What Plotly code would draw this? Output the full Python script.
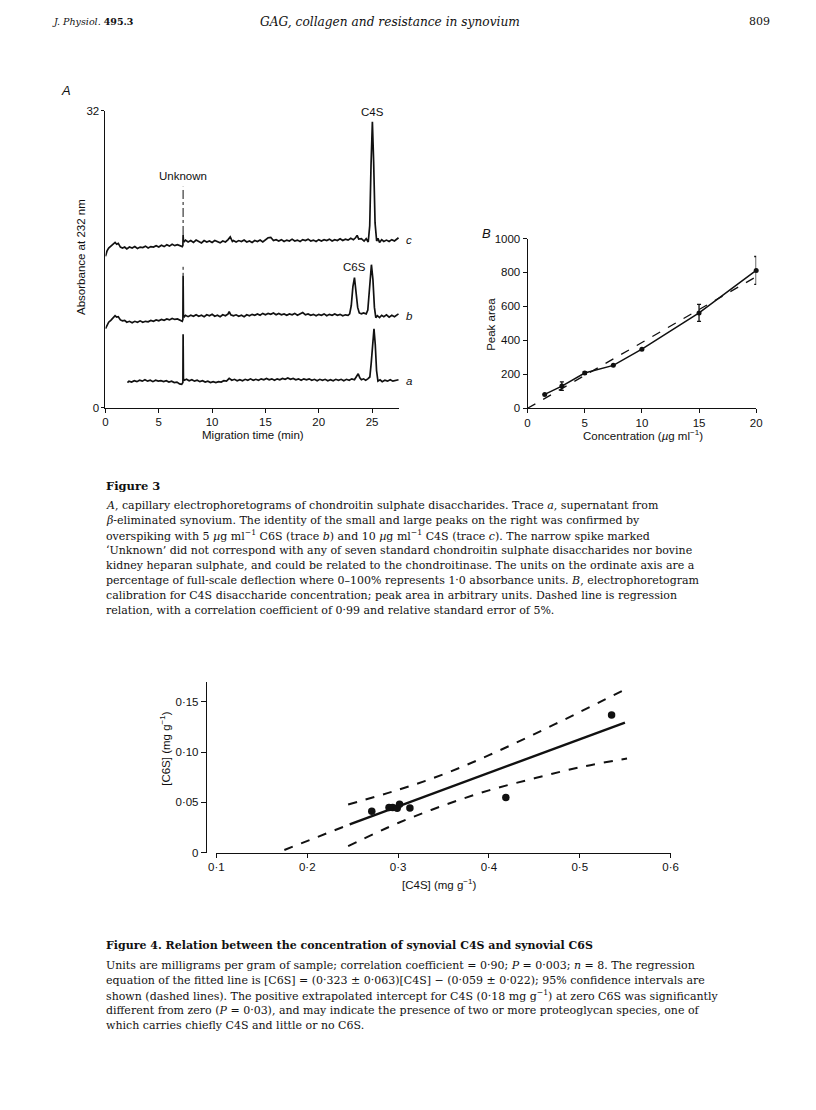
import plotly.graph_objects as go

# The page keeps the browser's default 8 px body margin, so the figure is drawn
# 800 x 1090 and all reference pixel positions are shifted by 8 px.
W, H = 800, 1090
OFF = 8

# ---------------- Figure 3A : electrophoretograms ----------------
trace_c_t = [0, 0.15, 0.3, 0.5, 0.7, 0.9, 1.05, 1.2, 1.4, 1.6, 1.8, 2.0, 2.25, 2.5, 2.75, 3.0, 3.25, 3.5, 3.75, 4.0,
             4.25, 4.5, 4.75, 5.0, 5.25, 5.5, 5.75, 6.0, 6.25, 6.5, 6.75, 7.0, 7.2, 7.26, 7.28, 7.31, 7.4, 7.5, 7.75, 8.0,
             8.25, 8.5, 8.75, 9.0, 9.25, 9.5, 9.75, 10.0, 10.25, 10.5, 10.75, 11.0, 11.25, 11.5, 11.7, 11.9, 12.0, 12.25,
             12.5, 12.75, 13.0, 13.25, 13.5, 13.75, 14.0, 14.25, 14.5, 14.75, 15.0, 15.25, 15.5, 15.75, 16.0, 16.25, 16.5,
             16.75, 17.0, 17.25, 17.5, 17.75, 18.0, 18.25, 18.5, 18.75, 19.0, 19.25, 19.5, 19.75, 20.0, 20.25, 20.5, 20.75,
             21.0, 21.25, 21.5, 21.75, 22.0, 22.25, 22.5, 22.75, 23.0, 23.25, 23.45, 23.6, 23.75, 24.0, 24.25, 24.45, 24.64,
             24.78, 24.9, 25.03, 25.15, 25.28, 25.43, 25.55, 25.7, 25.9, 26.1, 26.35, 26.6, 26.85, 27.1, 27.3, 27.48]
trace_c_v = [16.3, 16.9, 17.2, 17.4, 17.5, 17.8, 17.6, 17.7, 17.3, 17.2, 17.3, 17.1, 17.3, 17.2, 17.35, 17.15, 17.3, 17.25, 17.4, 17.2,
             17.35, 17.3, 17.45, 17.3, 17.5, 17.35, 17.55, 17.4, 17.6, 17.45, 17.55, 17.4, 17.35, 17.5, 18.6, 18.0, 17.9, 18.05, 17.85, 18.0,
             17.8, 18.05, 17.9, 17.75, 18.0, 17.85, 17.95, 17.8, 18.0, 17.9, 17.75, 17.95, 17.85, 18.1, 18.4, 17.9, 18.0, 17.85,
             18.0, 17.9, 18.05, 17.85, 17.95, 17.8, 18.0, 17.9, 18.05, 17.85, 18.1, 18.3, 18.35, 18.0, 18.1, 17.95, 18.1,
             17.9, 18.05, 17.95, 18.15, 17.95, 18.05, 17.9, 18.1, 18.0, 18.15, 17.95, 18.05, 17.9, 18.1, 17.95, 18.1, 18.0,
             18.15, 17.95, 18.1, 18.0, 18.2, 18.0, 18.15, 18.05, 18.25, 18.1, 18.3, 18.55, 18.15, 18.2, 17.95, 18.2, 17.85,
             19.6, 26.0, 30.8, 26.4, 19.9, 17.95, 18.25, 17.8, 18.1, 17.9, 18.05, 17.9, 18.1, 17.95, 18.1, 18.3]

trace_b_t = [0, 0.15, 0.3, 0.5, 0.7, 0.9, 1.05, 1.2, 1.4, 1.6, 1.8, 2.0, 2.25, 2.5, 2.75, 3.0, 3.25, 3.5, 3.75, 4.0,
             4.25, 4.5, 4.75, 5.0, 5.25, 5.5, 5.75, 6.0, 6.25, 6.5, 6.75, 7.0, 7.2, 7.26, 7.28, 7.31, 7.4, 7.5, 7.75, 8.0,
             8.25, 8.5, 8.75, 9.0, 9.25, 9.5, 9.75, 10.0, 10.25, 10.5, 10.75, 11.0, 11.25, 11.5, 11.6, 11.75, 12.0, 12.25,
             12.5, 12.75, 13.0, 13.25, 13.5, 13.75, 14.0, 14.25, 14.5, 14.75, 15.0, 15.25, 15.5, 15.75, 16.0, 16.25, 16.5,
             16.75, 17.0, 17.25, 17.5, 17.75, 18.0, 18.25, 18.5, 18.75, 19.0, 19.25, 19.5, 19.75, 20.0, 20.25, 20.5, 20.75,
             21.0, 21.25, 21.5, 21.75, 22.0, 22.25, 22.5, 22.75, 22.9, 23.05, 23.2, 23.35, 23.5, 23.65, 23.8, 24.0, 24.2,
             24.45, 24.6, 24.75, 24.94, 25.08, 25.22, 25.35, 25.5, 25.7, 25.9, 26.1, 26.35, 26.6, 26.85, 27.1, 27.3, 27.48]
trace_b_v = [8.5, 8.9, 9.2, 9.4, 9.6, 9.9, 9.75, 9.8, 9.45, 9.35, 9.4, 9.2, 9.3, 9.15, 9.3, 9.2, 9.35, 9.2, 9.3, 9.25,
             9.4, 9.3, 9.45, 9.35, 9.5, 9.4, 9.55, 9.45, 9.6, 9.5, 9.55, 9.4, 9.3, 9.5, 14.2, 10.0, 9.8, 9.95, 9.8, 9.95,
             9.85, 10.0, 9.85, 9.95, 9.8, 10.0, 9.9, 10.05, 9.85, 9.95, 9.8, 10.0, 9.9, 10.1, 10.35, 10.0, 9.9, 10.0,
             9.85, 9.95, 9.8, 10.0, 9.9, 10.05, 9.95, 10.1, 9.95, 10.15, 10.0, 10.15, 10.05, 10.2, 10.0, 10.15, 10.0,
             10.1, 9.95, 10.1, 10.0, 10.15, 9.95, 10.1, 10.25, 10.0, 10.1, 9.95, 10.05, 9.9, 10.05, 9.95, 10.1, 9.9,
             10.05, 9.95, 10.1, 9.95, 10.05, 9.9, 10.0, 9.95, 10.1, 11.0, 13.0, 14.0, 12.6, 10.8, 10.2, 10.1, 10.2,
             10.1, 10.5, 12.5, 15.4, 13.8, 10.8, 9.7, 9.9, 9.7, 9.95, 9.8, 10.0, 9.75, 9.95, 9.8, 9.95, 10.1]

trace_a_t = [2.06, 2.2, 2.45, 2.7, 2.95, 3.2, 3.45, 3.7, 3.95, 4.2, 4.45, 4.7, 4.95, 5.2, 5.45, 5.7, 5.95, 6.2, 6.45, 6.7,
             6.95, 7.15, 7.26, 7.28, 7.31, 7.4, 7.6, 7.85, 8.1, 8.35, 8.6, 8.85, 9.1, 9.35, 9.6, 9.85, 10.1, 10.35, 10.6,
             10.85, 11.1, 11.35, 11.6, 11.85, 12.1, 12.35, 12.6, 12.85, 13.1, 13.35, 13.6, 13.85, 14.1, 14.35, 14.6, 14.85,
             15.1, 15.35, 15.6, 15.85, 16.1, 16.35, 16.6, 16.85, 17.1, 17.35, 17.6, 17.85, 18.1, 18.35, 18.6, 18.85, 19.1,
             19.35, 19.6, 19.85, 20.1, 20.35, 20.6, 20.85, 21.1, 21.35, 21.6, 21.85, 22.1, 22.35, 22.6, 22.85, 23.1, 23.35,
             23.55, 23.7, 23.85, 24.0, 24.2, 24.4, 24.6, 24.79, 24.92, 25.05, 25.18, 25.3, 25.42, 25.55, 25.75, 25.95,
             26.2, 26.45, 26.7, 26.95, 27.2, 27.48]
trace_a_v = [2.7, 2.85, 2.75, 2.9, 2.8, 2.95, 2.85, 3.0, 2.85, 2.95, 2.8, 2.95, 2.85, 2.9, 2.8, 2.9, 2.75, 2.85, 2.7, 2.75,
             2.55, 2.5, 2.7, 7.9, 3.1, 2.95, 3.05, 2.9, 3.0, 2.85, 2.95, 2.8, 2.9, 2.75, 2.85, 2.7, 2.8, 2.7, 2.8,
             2.75, 2.9, 2.85, 3.15, 2.95, 3.05, 2.9, 3.0, 2.9, 3.05, 2.95, 3.1, 2.95, 3.05, 2.95, 3.1, 3.0,
             3.15, 3.0, 3.1, 2.95, 3.1, 3.0, 3.15, 3.05, 3.2, 3.05, 3.15, 3.0, 3.1, 2.95, 3.1, 3.0, 3.1,
             2.95, 3.05, 2.9, 3.05, 2.95, 3.05, 2.9, 3.0, 2.9, 3.05, 2.95, 3.05, 2.9, 3.05, 2.95, 3.1, 3.0,
             3.3, 3.65, 3.2, 3.0, 3.1, 2.95, 3.1, 3.3, 4.8, 7.3, 8.5, 6.8, 4.0, 2.85, 3.0, 2.8,
             2.95, 2.85, 3.0, 2.85, 2.95, 3.0]

unknown_t = 7.28
unknown_c_span = [18.6, 23.8]   # faint dash-dot top of the spike in trace c
unknown_b_span = [14.2, 15.3]   # faint dotted top of the spike in trace b
trace_labels = ["c", "b", "a"]
trace_label_levels = [18.0, 9.9, 2.9]
a_xticks = [0, 5, 10, 15, 20, 25]
a_yticks = [0, 32]

# ---------------- Figure 3B : calibration ----------------
conc = [1.5, 3, 5, 7.5, 10, 15, 20]
peak_area = [82, 131, 208, 253, 348, 562, 812]
peak_err = [0, 25, 8, 0, 0, 50, 82]
regr_b_x = [0, 20]
regr_b_y = [0, 775]
b_xticks = [0, 5, 10, 15, 20]
b_yticks = [0, 200, 400, 600, 800, 1000]

# ---------------- Figure 4 : C4S vs C6S ----------------
c4s = [0.271, 0.290, 0.294, 0.299, 0.3016, 0.313, 0.4186, 0.535]
c6s = [0.0413, 0.0449, 0.0449, 0.0442, 0.0482, 0.0445, 0.0548, 0.137]
fit_x = [0.2467, 0.5497]
fit_y = [0.0282, 0.1295]
extrap_x = [0.1748, 0.2467]
extrap_y = [0.0027, 0.0282]
ci_up_x = [0.245, 0.30, 0.35, 0.40, 0.45, 0.50, 0.549]
ci_up_y = [0.048, 0.0625, 0.078, 0.097, 0.118, 0.140, 0.162]
ci_lo_x = [0.245, 0.30, 0.35, 0.40, 0.45, 0.50, 0.552]
ci_lo_y = [0.0066, 0.0295, 0.047, 0.062, 0.074, 0.085, 0.0937]
f4_xticks = [0.1, 0.2, 0.3, 0.4, 0.5, 0.6]
f4_xtext = ["0·1", "0·2", "0·3", "0·4", "0·5", "0·6"]
f4_yticks = [0, 0.05, 0.10, 0.15]
f4_ytext = ["0", "0·05", "0·10", "0·15"]

INK = "#111111"
SANS = "Liberation Sans, Arial, sans-serif"
SERIF = "DejaVu Serif, serif"


def px(x):
    return (x - OFF) / W


def py(y):
    return 1 - (y - OFF) / H


fig = go.Figure()

# Panel A traces
for t, v in [(trace_c_t, trace_c_v), (trace_b_t, trace_b_v), (trace_a_t, trace_a_v)]:
    fig.add_trace(go.Scatter(x=t, y=v, mode="lines", line=dict(color=INK, width=1.7),
                             xaxis="x", yaxis="y", showlegend=False, hoverinfo="skip"))
fig.add_trace(go.Scatter(x=[unknown_t, unknown_t], y=unknown_c_span, mode="lines",
                         line=dict(color=INK, width=1, dash="dashdot"), xaxis="x", yaxis="y",
                         showlegend=False, hoverinfo="skip"))
fig.add_trace(go.Scatter(x=[unknown_t, unknown_t], y=unknown_b_span, mode="lines",
                         line=dict(color=INK, width=1, dash="dot"), xaxis="x", yaxis="y",
                         showlegend=False, hoverinfo="skip"))

# Panel B
fig.add_trace(go.Scatter(x=regr_b_x, y=regr_b_y, mode="lines",
                         line=dict(color=INK, width=1.3, dash="dash"), xaxis="x2", yaxis="y2",
                         showlegend=False, hoverinfo="skip", cliponaxis=False))
fig.add_trace(go.Scatter(x=conc, y=peak_area, mode="lines+markers",
                         line=dict(color=INK, width=1.5), marker=dict(color=INK, size=5),
                         error_y=dict(type="data", array=peak_err, visible=True, color=INK,
                                      thickness=1.3, width=2),
                         xaxis="x2", yaxis="y2", showlegend=False, cliponaxis=False))

# Figure 4
fig.add_trace(go.Scatter(x=extrap_x, y=extrap_y, mode="lines",
                         line=dict(color=INK, width=2, dash="dash"), xaxis="x3", yaxis="y3",
                         showlegend=False, hoverinfo="skip"))
fig.add_trace(go.Scatter(x=fit_x, y=fit_y, mode="lines",
                         line=dict(color=INK, width=2.4), xaxis="x3", yaxis="y3",
                         showlegend=False, hoverinfo="skip"))
fig.add_trace(go.Scatter(x=ci_up_x, y=ci_up_y, mode="lines", line_shape="spline",
                         line=dict(color=INK, width=2, dash="dash"), xaxis="x3", yaxis="y3",
                         showlegend=False, hoverinfo="skip"))
fig.add_trace(go.Scatter(x=ci_lo_x, y=ci_lo_y, mode="lines", line_shape="spline",
                         line=dict(color=INK, width=2, dash="dash"), xaxis="x3", yaxis="y3",
                         showlegend=False, hoverinfo="skip"))
fig.add_trace(go.Scatter(x=c4s, y=c6s, mode="markers", marker=dict(color=INK, size=7.5),
                         xaxis="x3", yaxis="y3", showlegend=False))

axis_common = dict(showgrid=False, zeroline=False, showline=True, linecolor=INK, linewidth=1,
                   ticks="outside", tickcolor=INK, tickwidth=1,
                   tickfont=dict(family=SANS, size=11.5, color=INK))

fig.update_layout(
    width=W, height=H, autosize=False,
    margin=dict(l=0, r=0, t=0, b=0),
    paper_bgcolor="white", plot_bgcolor="white",
    xaxis=dict(domain=[px(99.3), px(399.3)], range=[0, 27.57], tickvals=a_xticks, ticklen=4,
               anchor="y", **axis_common),
    yaxis=dict(domain=[py(406), py(105.7)], range=[0, 32], tickvals=a_yticks, ticklen=3,
               anchor="x", **axis_common),
    xaxis2=dict(domain=[px(530), px(763.3)], range=[0, 20], tickvals=b_xticks, ticklen=4,
                anchor="y2", **axis_common),
    yaxis2=dict(domain=[py(406.7), py(235)], range=[0, 1000], tickvals=b_yticks, ticklen=4,
                anchor="x2", **axis_common),
    xaxis3=dict(domain=[px(212.5), px(676)], range=[0.1, 0.6], tickvals=f4_xticks, ticktext=f4_xtext,
                ticklen=4, anchor="y3", **axis_common),
    yaxis3=dict(domain=[py(856), py(683.3)], range=[0, 0.17], tickvals=f4_yticks, ticktext=f4_ytext,
                ticklen=5, anchor="free", position=px(201.7), **axis_common),
)

ann = []


def note(text, x, y, size, family=SANS, xanchor="center", yanchor="middle", textangle=0, xref="paper",
         yref="paper", color=INK):
    if xref == "paper":
        x = px(x)
    if yref == "paper":
        y = py(y)
    ann.append(dict(text=text, x=x, y=y, xref=xref, yref=yref, xanchor=xanchor, yanchor=yanchor,
                    showarrow=False, textangle=textangle, borderpad=0,
                    font=dict(family=family, size=size, color=color)))


# header
note("<i>J. Physiol.</i> <b>495.3</b>", 44, 16, 9.5, family=SERIF, xanchor="left")
note("<i>GAG, collagen and resistance in synovium</i>", 390, 16, 12.2, family=SERIF)
note("809", 778, 16, 11, family=SERIF, xanchor="right")

# panel letters
note("<i>A</i>", 59, 85, 13)
note("<i>B</i>", 488, 230, 13)

# panel A text
note("Absorbance at 232 nm", 75, 254, 11.5, textangle=-90)
note("Migration time (min)", 250, 434, 11.5)
note("Unknown", unknown_t, 25.0, 11.5, xref="x", yref="y")
note("C4S", 25.03, 31.1, 11.5, xref="x", yref="y", yanchor="bottom")
note("C6S", 23.35, 14.4, 11.5, xref="x", yref="y", yanchor="bottom")
for lab, lev in zip(trace_labels, trace_label_levels):
    note("<i>%s</i>" % lab, 405, 406 - lev * 9.39, 11.5, xanchor="left")

# panel B text
note("Peak area", 492, 322, 11.5, textangle=-90)
note("Concentration (<i>µ</i>g ml<sup>−1</sup>)", 648, 434, 11.5)

# Figure 4 axis titles
note("[C6S] (mg g<sup>−1</sup>)", 160, 750, 11.5, textangle=-90)
note("[C4S] (mg g<sup>−1</sup>)", 440, 888, 11.5)

# Figure 3 caption
CAP_X = 99
cap3 = [
    "<i>A</i>, capillary electrophoretograms of chondroitin sulphate disaccharides. Trace <i>a</i>, supernatant from",
    "<i>β</i>-eliminated synovium. The identity of the small and large peaks on the right was confirmed by",
    "overspiking with 5 <i>µ</i>g ml<sup>−1</sup> C6S (trace <i>b</i>) and 10 <i>µ</i>g ml<sup>−1</sup> C4S (trace <i>c</i>). The narrow spike marked",
    "‘Unknown’ did not correspond with any of seven standard chondroitin sulphate disaccharides nor bovine",
    "kidney heparan sulphate, and could be related to the chondroitinase. The units on the ordinate axis are a",
    "percentage of full-scale deflection where 0–100% represents 1·0 absorbance units. <i>B</i>, electrophoretogram",
    "calibration for C4S disaccharide concentration; peak area in arbitrary units. Dashed line is regression",
    "relation, with a correlation coefficient of 0·99 and relative standard error of 5%.",
]
note("<b>Figure 3</b>", CAP_X, 485, 11.5, family=SERIF, xanchor="left")
for i, line in enumerate(cap3):
    note(line, CAP_X, 505 + i * 15.2, 11, family=SERIF, xanchor="left")

cap4 = [
    "Units are milligrams per gram of sample; correlation coefficient = 0·90; <i>P</i> = 0·003; <i>n</i> = 8. The regression",
    "equation of the fitted line is [C6S] = (0·323 ± 0·063)[C4S] − (0·059 ± 0·022); 95% confidence intervals are",
    "shown (dashed lines). The positive extrapolated intercept for C4S (0·18 mg g<sup>−1</sup>) at zero C6S was significantly",
    "different from zero (<i>P</i> = 0·03), and may indicate the presence of two or more proteoglycan species, one of",
    "which carries chiefly C4S and little or no C6S.",
]
note("<b>Figure 4. Relation between the concentration of synovial C4S and synovial C6S</b>", CAP_X, 950, 11,
     family=SERIF, xanchor="left")
for i, line in enumerate(cap4):
    note(line, CAP_X, 970 + i * 15.2, 11, family=SERIF, xanchor="left")

fig.update_layout(annotations=ann)

fig.write_html("out.html", config={"displayModeBar": False})
